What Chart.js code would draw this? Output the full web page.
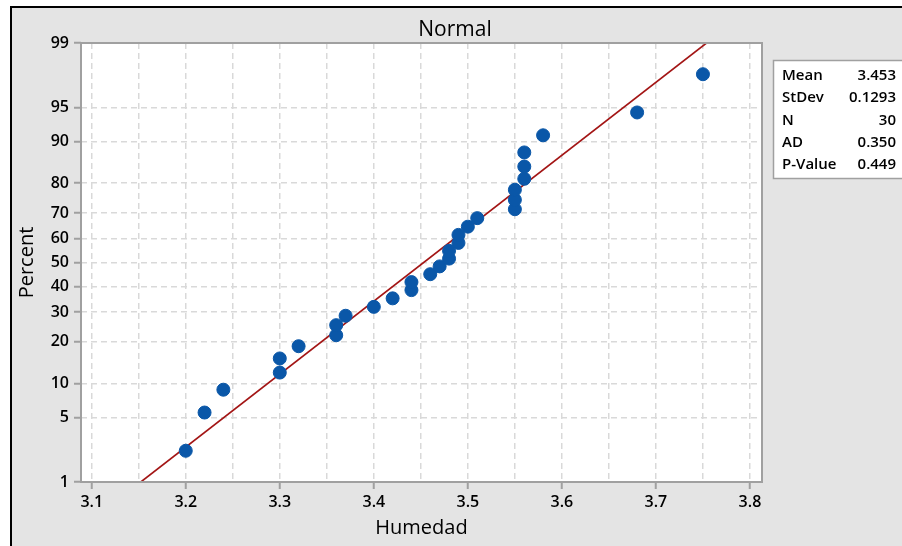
<!DOCTYPE html>
<html>
<head>
<meta charset="utf-8">
<script src="https://cdn.jsdelivr.net/npm/chart.js@4.4.1/dist/chart.umd.min.js"></script>
<style>
html,body{margin:0;padding:0;background:#fff;}
#c{display:block;width:902px;height:546px;}
</style>
</head>
<body>
<canvas id="c" width="902" height="546"></canvas>
<script>
// ---- data ----
const humedad = [3.20, 3.22, 3.24, 3.30, 3.30, 3.32, 3.36, 3.36, 3.37, 3.40,
                 3.42, 3.44, 3.44, 3.46, 3.47, 3.48, 3.48, 3.49, 3.49, 3.50,
                 3.51, 3.55, 3.55, 3.55, 3.56, 3.56, 3.56, 3.58, 3.68, 3.75];
const percent = [2.30, 5.59, 8.88, 12.17, 15.46, 18.75, 22.04, 25.33, 28.62, 31.91,
                 35.20, 38.49, 41.78, 45.07, 48.36, 51.64, 54.93, 58.22, 61.51, 64.80,
                 68.09, 71.38, 74.67, 77.96, 81.25, 84.54, 87.83, 91.12, 94.41, 97.70];
const yTickPercents = [1, 5, 10, 20, 30, 40, 50, 60, 70, 80, 90, 95, 99];
const xTickValues = [3.1, 3.15, 3.2, 3.25, 3.3, 3.35, 3.4, 3.45, 3.5, 3.55, 3.6, 3.65, 3.7, 3.75, 3.8];
const xTickLabels = ['3.1', '', '3.2', '', '3.3', '', '3.4', '', '3.5', '', '3.6', '', '3.7', '', '3.8'];
const statsLabels = ['Mean', 'StDev', 'N', 'AD', 'P-Value'];
const statsValues = ['3.453', '0.1293', '30', '0.350', '0.449'];
const fitMean = 3.453;
const fitStDev = 0.1293;
const fitPercents = [1, 99];
const titleText = 'Normal';
const xTitle = 'Humedad';
const yTitle = 'Percent';

// inverse standard normal CDF (Acklam) for the probability scale
function probit(p) {
  const a = [-3.969683028665376e+01, 2.209460984245205e+02, -2.759285104469687e+02, 1.383577518672690e+02, -3.066479806614716e+01, 2.506628277459239e+00];
  const b = [-5.447609879822406e+01, 1.615858368580409e+02, -1.556989798598866e+02, 6.680131188771972e+01, -1.328068155288572e+01];
  const c = [-7.784894002430293e-03, -3.223964580411365e-01, -2.400758277161838e+00, -2.549732539343734e+00, 4.374664141464968e+00, 2.938163982698783e+00];
  const d = [7.784695709041462e-03, 3.224671290700398e-01, 2.445134137142996e+00, 3.754408661907416e+00];
  const pl = 0.02425, ph = 1 - pl;
  let q, r;
  if (p < pl) {
    q = Math.sqrt(-2 * Math.log(p));
    return (((((c[0]*q+c[1])*q+c[2])*q+c[3])*q+c[4])*q+c[5]) / ((((d[0]*q+d[1])*q+d[2])*q+d[3])*q+1);
  } else if (p <= ph) {
    q = p - 0.5; r = q*q;
    return (((((a[0]*r+a[1])*r+a[2])*r+a[3])*r+a[4])*r+a[5])*q / (((((b[0]*r+b[1])*r+b[2])*r+b[3])*r+b[4])*r+1);
  } else {
    q = Math.sqrt(-2 * Math.log(1 - p));
    return -(((((c[0]*q+c[1])*q+c[2])*q+c[3])*q+c[4])*q+c[5]) / ((((d[0]*q+d[1])*q+d[2])*q+d[3])*q+1);
  }
}

const points = humedad.map((x, i) => ({ x: x, y: probit(percent[i] / 100) }));
const fitLine = fitPercents.map(p => ({ x: fitMean + probit(p / 100) * fitStDev, y: probit(p / 100) }));

const FONT = '"Open Sans", "Noto Sans", sans-serif';
const BG = '#e4e4e4';
const GRID = '#d9d9d9';
const AXIS = '#a0a0a0';

const decor = {
  id: 'decor',
  beforeDraw(chart) {
    const ctx = chart.ctx, W = chart.width, H = chart.height, a = chart.chartArea;
    ctx.save();
    ctx.fillStyle = '#ffffff';
    ctx.fillRect(0, 0, W, H);
    ctx.fillStyle = BG;
    ctx.fillRect(11, 7, W, H);
    ctx.fillStyle = '#000000';
    ctx.fillRect(10, 6, W, 2);
    ctx.fillRect(10, 6, 2, H);
    ctx.fillStyle = '#ffffff';
    ctx.fillRect(a.left, a.top, a.right - a.left, a.bottom - a.top);
    ctx.restore();
  },
  afterDraw(chart) {
    const ctx = chart.ctx, a = chart.chartArea;
    ctx.save();
    // plot frame
    ctx.strokeStyle = AXIS;
    ctx.lineWidth = 2;
    ctx.strokeRect(a.left, a.top, a.right - a.left, a.bottom - a.top);
    // title
    ctx.fillStyle = '#000';
    ctx.textAlign = 'center';
    ctx.textBaseline = 'middle';
    ctx.font = '21px ' + FONT;
    ctx.fillText(titleText, 455, 30);
    // x title
    ctx.font = '20px ' + FONT;
    ctx.fillText(xTitle, (a.left + a.right) / 2, 528);
    // y title
    ctx.save();
    ctx.translate(27, (a.top + a.bottom) / 2);
    ctx.rotate(-Math.PI / 2);
    ctx.fillText(yTitle, 0, 0);
    ctx.restore();
    // stats box
    ctx.fillStyle = '#fff';
    ctx.fillRect(773, 60, 140, 118);
    ctx.strokeStyle = AXIS;
    ctx.lineWidth = 1.5;
    ctx.strokeRect(773.5, 60.5, 140, 118);
    ctx.fillStyle = '#000';
    ctx.font = '600 15px ' + FONT;
    ctx.textBaseline = 'middle';
    statsLabels.forEach((lab, i) => {
      const y = 76 + i * 22.2;
      ctx.textAlign = 'left';
      ctx.fillText(lab, 782, y);
      ctx.textAlign = 'right';
      ctx.fillText(statsValues[i], 896, y);
    });
    ctx.restore();
  }
};

new Chart(document.getElementById('c'), {
  type: 'scatter',
  data: {
    datasets: [
      {
        type: 'line',
        data: fitLine,
        borderColor: '#a31515',
        borderWidth: 1.6,
        pointRadius: 0,
        fill: false,
        order: 2
      },
      {
        data: points,
        backgroundColor: '#0a57a8',
        borderColor: '#0a57a8',
        pointRadius: 6.5,
        pointHoverRadius: 6.5,
        order: 1
      }
    ]
  },
  options: {
    responsive: false,
    animation: false,
    devicePixelRatio: 1,
    layout: { padding: { left: 0, top: 43, right: 140, bottom: 0 } },
    plugins: { legend: { display: false }, tooltip: { enabled: false }, title: { display: false } },
    scales: {
      x: {
        type: 'linear',
        min: 3.0886,
        max: 3.8128,
        afterBuildTicks(scale) { scale.ticks = xTickValues.map(v => ({ value: v })); },
        afterFit(scale) { scale.height = 64; },
        ticks: {
          autoSkip: false,
          maxRotation: 0,
          padding: 4,
          color: '#000',
          font: { family: FONT, size: 16, weight: '600' },
          callback: (v, i) => xTickLabels[i]
        },
        grid: {
          color: GRID,
          lineWidth: 1.5,
          drawTicks: true,
          tickLength: 7,
          tickWidth: 2,
          tickBorderDash: [],
          tickColor: ctx => (xTickLabels[ctx.index] ? AXIS : 'rgba(0,0,0,0)')
        },
        border: { display: false, dash: [6, 4] }
      },
      y: {
        type: 'linear',
        min: probit(0.01),
        max: probit(0.99),
        afterBuildTicks(scale) { scale.ticks = yTickPercents.map(p => ({ value: probit(p / 100) })); },
        afterFit(scale) { scale.width = 81; },
        ticks: {
          autoSkip: false,
          padding: 5,
          color: '#000',
          font: { family: FONT, size: 16, weight: '600' },
          callback: (v, i) => String(yTickPercents[i])
        },
        grid: {
          color: GRID,
          lineWidth: 1.5,
          drawTicks: true,
          tickLength: 7,
          tickWidth: 2,
          tickBorderDash: [],
          tickColor: AXIS
        },
        border: { display: false, dash: [6, 4] }
      }
    }
  },
  plugins: [decor]
});
</script>
</body>
</html>
